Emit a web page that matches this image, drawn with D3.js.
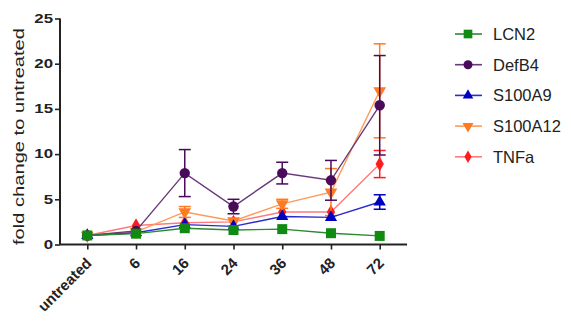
<!DOCTYPE html>
<html>
<head>
<meta charset="utf-8" />
<script src="https://d3js.org/d3.v7.min.js"></script>
<style>
  body { margin: 0; background: #fff; }
  text { font-family: "Liberation Sans", Arial, sans-serif; }
</style>
</head>
<body>
<svg></svg>
<script>
// time points (categories)
const timepoints = ["untreated", "6", "16", "24", "36", "48", "72"]
const yTicks = [0, 5, 10, 15, 20, 25]

// means
const lcn2    = [1.0, 1.2, 1.8, 1.6, 1.7, 1.25, 0.95]
const defb4   = [1.0, 1.5, 7.9, 4.2, 7.9, 7.1, 15.4]
const s100a9  = [1.0, 1.3, 2.2, 2.0, 3.1, 3.0, 4.7]
const s100a12 = [1.0, 1.4, 3.6, 2.6, 4.5, 5.8, 17.0]
const tnfa    = [1.0, 2.1, 2.4, 2.5, 3.6, 3.6, 8.9]

// error (sd)
const lcn2Err    = [0, 0.2, 0.3, 0.2, 0.2, 0.2, 0.2]
const defb4Err   = [0, 0.2, 2.6, 0.8, 1.2, 2.2, 5.5]
const s100a9Err  = [0, 0.1, 0.3, 0.2, 0.3, 0.3, 0.8]
const s100a12Err = [0, 0.2, 0.6, 0.3, 0.5, 2.6, 5.2]
const tnfaErr    = [0, 0.2, 0.3, 0.2, 0.3, 0.3, 1.5]

const names   = ["LCN2", "DefB4", "S100A9", "S100A12", "TNFa"]
const colors  = ["#108a10", "#4a0a5a", "#0000c0", "#ff7a20", "#ff1c1c"]
const lineCol = ["#2a8a30", "#6a3a7a", "#2a2ad0", "#ff9a55", "#ff7a7a"]
const shapes  = [d3.symbolSquare, d3.symbolCircle, d3.symbolTriangle, "down", d3.symbolDiamond]
const series  = [lcn2, defb4, s100a9, s100a12, tnfa]
const errs    = [lcn2Err, defb4Err, s100a9Err, s100a12Err, tnfaErr]

const W = 571, H = 322
const svg = d3.select("svg").attr("width", W).attr("height", H)

const mLeft = 60, mRight = 407, mTop = 18.5, mBottom = 244.5

const x = d3.scalePoint().domain(timepoints).range([mLeft, mRight]).padding(0.56)
const y = d3.scaleLinear().domain([0, 25]).range([mBottom, mTop])

// axes
const yAx = svg.append("g").attr("transform", `translate(${mLeft},0)`)
  .call(d3.axisLeft(y).tickValues(yTicks).tickSize(5).tickPadding(2))
const xAx = svg.append("g").attr("transform", `translate(0,${mBottom})`)
  .call(d3.axisBottom(x).tickSize(5))

for (const ax of [yAx, xAx]) {
  ax.select(".domain").attr("stroke", "#222").attr("stroke-width", 2)
  ax.selectAll(".tick line").attr("stroke", "#222").attr("stroke-width", 1.6)
  ax.selectAll("text").attr("fill", "#222").attr("font-weight", "bold")
}
xAx.select(".domain").attr("d", `M${mLeft},0H${mRight}`)
yAx.select(".domain").attr("d", `M0,${mBottom}V${mTop}`)

yAx.selectAll(".tick text").attr("font-size", 12)
  .attr("lengthAdjust", "spacingAndGlyphs")
  .attr("textLength", function () { return this.getComputedTextLength() * 1.4 })

xAx.selectAll(".tick text")
  .attr("font-size", 15)
  .attr("text-anchor", "end")
  .attr("x", 0).attr("y", 0)
  .attr("dy", "0.35em")
  .attr("transform", "translate(1,16) rotate(-45)")

svg.append("text")
  .attr("transform", `translate(24,${(mTop + mBottom) / 2 + 5}) rotate(-90)`)
  .attr("text-anchor", "middle")
  .attr("font-size", 15)
  .attr("fill", "#222")
  .attr("textLength", 217)
  .attr("lengthAdjust", "spacingAndGlyphs")
  .text("fold change to untreated")

function sym(shape, size) {
  if (shape === "down") return d3.symbol(d3.symbolTriangle, size)()
  return d3.symbol(shape, size)()
}
const sizes = [100, 85, 65, 70, 60]

const line = d3.line().x((d, i) => x(timepoints[i])).y(d => y(d))

// draw last series first so LCN2 sits on top
for (let k = series.length - 1; k >= 0; k--) {
  const g = svg.append("g")
  g.append("path").datum(series[k])
    .attr("d", line).attr("fill", "none")
    .attr("stroke", lineCol[k]).attr("stroke-width", 1.4)

  const pts = series[k].map((v, i) => ({ t: timepoints[i], v: v, e: errs[k][i] }))
  const eb = g.selectAll(".eb").data(pts.filter(p => p.e > 0.4)).enter().append("g")
    .attr("transform", p => `translate(${x(p.t)},0)`)
  eb.append("line").attr("y1", p => y(p.v - p.e)).attr("y2", p => y(p.v + p.e))
    .attr("stroke", colors[k]).attr("stroke-width", 1.5)
  eb.append("line").attr("x1", -6).attr("x2", 6)
    .attr("y1", p => y(p.v - p.e)).attr("y2", p => y(p.v - p.e))
    .attr("stroke", colors[k]).attr("stroke-width", 1.5)
  eb.append("line").attr("x1", -6).attr("x2", 6)
    .attr("y1", p => y(p.v + p.e)).attr("y2", p => y(p.v + p.e))
    .attr("stroke", colors[k]).attr("stroke-width", 1.5)

  g.selectAll(".pt").data(pts).enter().append("path")
    .attr("d", sym(shapes[k], sizes[k]))
    .attr("transform", p => `translate(${x(p.t)},${y(p.v)})` + (shapes[k] === "down" ? " rotate(180)" : ""))
    .attr("fill", colors[k])
}

// legend
const leg = svg.append("g")
names.forEach((n, k) => {
  const ly = 34 + k * 30.7
  leg.append("line").attr("x1", 455).attr("x2", 482).attr("y1", ly).attr("y2", ly)
    .attr("stroke", lineCol[k]).attr("stroke-width", 1.6)
  leg.append("path").attr("d", sym(shapes[k], sizes[k] * 0.75))
    .attr("transform", `translate(468,${ly})` + (shapes[k] === "down" ? " rotate(180)" : ""))
    .attr("fill", colors[k])
  leg.append("text").attr("x", 493).attr("y", ly).attr("dy", "0.36em")
    .attr("font-size", 16.5).attr("fill", "#222").text(n)
})
</script>
</body>
</html>
